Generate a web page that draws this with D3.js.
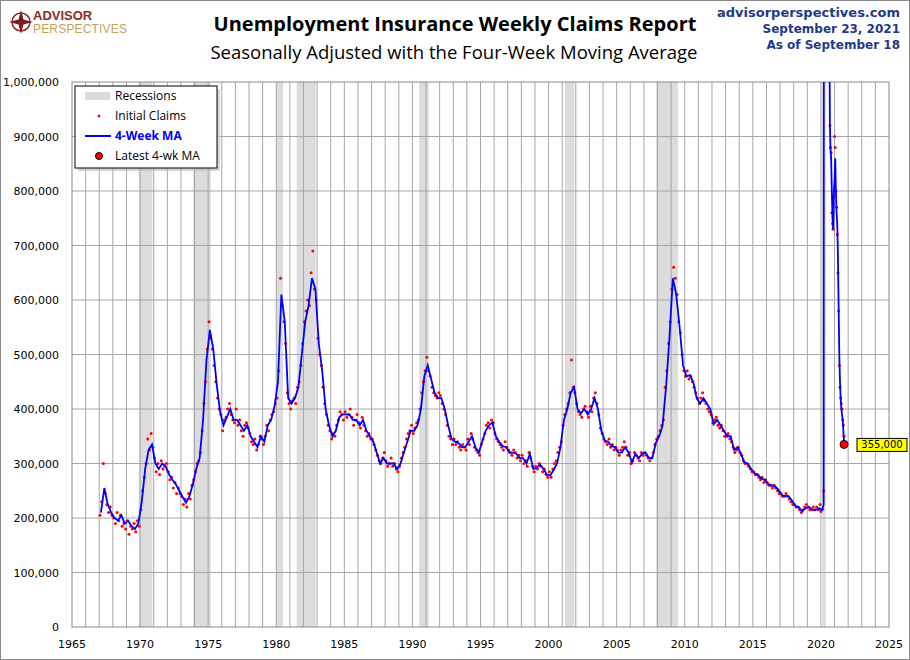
<!DOCTYPE html>
<html><head><meta charset="utf-8">
<script src="https://cdn.jsdelivr.net/npm/d3@7"></script>
<style>body{margin:0;background:#fff}svg{display:block}</style>
</head><body>
<svg id="chart" width="910" height="660"></svg>
<script>
// four-week moving average, quarterly readings (thousands), 1967..2019
var maStartYear = 1967;
var maQuarterly = [
 210,255,225,210, 200,195,205,190, 195,185,180,190, 230,290,325,335, 300,290,300,295,
 280,270,262,250, 238,228,240,262, 290,310,380,490, 545,510,445,395, 370,385,400,380,
 380,370,360,370, 350,340,330,350, 340,370,380,405, 450,610,560,420, 410,420,440,500,
 560,590,640,620, 520,470,400,370, 350,360,385,390, 390,390,380,380, 370,380,360,350,
 340,320,300,310, 300,300,300,290, 300,320,340,360, 360,370,400,460, 480,455,430,420,
 420,400,370,345, 340,338,330,330, 340,350,330,320, 340,360,370,375, 350,340,332,330,
 320,320,318,310, 310,300,318,290, 292,298,290,280, 278,288,300,330, 380,400,430,440,
 400,392,400,390, 400,420,400,360, 342,340,332,330, 320,320,330,320, 302,318,310,318,
 320,310,310,338, 350,370,440,530, 640,610,550,480, 460,462,450,420, 410,420,410,400,
 372,380,370,360, 350,350,325,330, 318,302,300,290, 282,280,272,270, 262,260,258,252,
 242,240,240,232, 222,220,212,218, 220,215,215,218
];
// initial claims, eight readings per year (thousands), 1967..2019
var claimsEighths = [
 205,230,300,245,225,210,220,205, 200,190,210,195,205,185,190,180, 195,170,185,180,190,175,195,185,
 215,250,275,300,345,325,355,330, 310,285,300,280,305,290,295,300, 285,270,275,255,265,245,255,245,
 240,225,235,220,245,235,260,270, 285,300,305,320,360,410,450,510, 560,530,510,480,450,420,400,390,
 360,380,385,400,410,390,380,375, 400,370,380,360,350,370,375,365, 355,340,335,345,325,335,350,345,
 335,350,370,360,380,390,395,410, 420,470,640,590,560,520,430,410, 400,415,420,410,440,450,480,520,
 560,580,600,590,650,690,620,600, 530,500,480,440,410,390,370,360, 345,355,350,370,380,395,390,380,
 395,385,390,400,385,370,380,390, 375,365,385,370,360,350,355,345, 345,335,325,315,305,300,310,320,
 305,295,300,310,295,300,290,285, 295,310,320,330,345,355,360,370, 355,365,375,380,400,430,450,470,
 495,470,460,440,430,425,420,430, 425,410,400,390,370,350,345,335, 345,335,340,330,325,335,330,325,
 345,335,355,345,330,325,320,315, 335,345,355,370,375,365,380,375, 355,345,340,335,330,325,340,330,
 325,320,315,325,320,310,315,305, 315,300,305,295,320,310,295,285, 295,290,300,295,285,290,280,275,
 285,275,290,300,305,320,330,340, 370,390,400,410,430,490,440,430, 410,395,390,385,400,405,395,385,
 405,395,420,430,410,390,365,355, 345,340,335,345,330,335,325,330, 325,315,325,330,340,330,315,320,
 300,305,320,315,310,305,320,315, 320,315,310,305,310,320,335,345, 350,360,370,380,440,470,520,560,
 620,660,640,610,560,540,500,470, 460,470,455,460,450,440,430,420, 410,420,430,415,410,400,395,390,
 375,380,385,370,365,370,360,350, 350,355,345,340,330,320,325,330, 320,315,305,300,300,295,290,285,
 285,280,280,275,270,275,265,270, 265,260,260,255,260,255,250,245, 245,240,240,245,240,235,230,225,
 225,220,220,215,210,215,220,225, 220,215,215,220,215,220,215,225
];
// pandemic period, finer readings
var pandemicDates = [2020.0,2020.1,2020.2,2020.21,2020.23,2020.27,2020.32,2020.38,2020.45,2020.52,2020.6,2020.66,2020.7,2020.75,2020.8,2020.85,2020.9,2020.95,2021.0,2021.05,2021.1,2021.15,2021.2,2021.25,2021.3,2021.35,2021.4,2021.45,2021.5,2021.55,2021.6,2021.65,2021.7];
var pandemicMA = [215,215,225,998,2500,4200,3500,2500,1700,1450,1200,920,880,860,800,750,730,800,820,860,800,760,740,680,590,500,450,420,400,390,380,360,335];
var pandemicClaims = [212,216,250,null,null,null,null,null,null,null,null,920,880,870,760,740,730,790,900,880,800,770,720,650,580,480,440,420,410,400,380,370,350];
var recessions = [[1969.9,1970.9],[1973.9,1975.2],[1980.0,1980.5],[1981.5,1982.9],[1990.5,1991.2],[2001.2,2001.9],[2007.9,2009.5],[2020.1,2020.35]];
var yearTicks = d3.range(1965, 2026, 5);
var claimTicks = d3.range(0, 1000001, 100000);
var latestLabel = "355,000";

var ma = maQuarterly.map(function(v,i){return {x: maStartYear + i/4 + 0.125, y: v*1000};})
  .concat(pandemicDates.map(function(d,i){return {x:d, y:pandemicMA[i]*1000};}));
var claims = claimsEighths.map(function(v,i){return {x: maStartYear + i/8 + 0.06, y: v*1000};})
  .concat(pandemicDates.map(function(d,i){return {x:d, y:pandemicClaims[i]==null?null:pandemicClaims[i]*1000};}))
  .filter(function(d){return d.y!=null;});

var svg = d3.select("#chart");
var L = 72, R = 889, T = 82, B = 627;
var x = d3.scaleLinear().domain([1965,2025]).range([L,R]);
var y = d3.scaleLinear().domain([0,1000000]).range([B,T]);

svg.append("rect").attr("x",0.5).attr("y",0.5).attr("width",909).attr("height",659).attr("fill","#fff").attr("stroke","#8a8a8a");

svg.append("defs").append("clipPath").attr("id","clip").append("rect").attr("x",L).attr("y",T).attr("width",R-L).attr("height",B-T);

var plot = svg.append("g");
plot.selectAll(".rec").data(recessions).enter().append("rect")
  .attr("x",function(d){return x(d[0]);}).attr("width",function(d){return x(d[1])-x(d[0]);})
  .attr("y",T).attr("height",B-T).attr("fill","#dcdcdc");
plot.selectAll(".vg").data(d3.range(1966,2025)).enter().append("line")
  .attr("x1",function(d){return x(d);}).attr("x2",function(d){return x(d);})
  .attr("y1",T).attr("y2",B).attr("stroke","#a6a6a6").attr("stroke-width",1);
plot.selectAll(".hg").data(claimTicks.slice(1,-1)).enter().append("line")
  .attr("x1",L).attr("x2",R).attr("y1",function(d){return y(d);}).attr("y2",function(d){return y(d);})
  .attr("stroke","#a6a6a6").attr("stroke-width",1);
plot.append("rect").attr("x",L).attr("y",T).attr("width",R-L).attr("height",B-T).attr("fill","none").attr("stroke","#8a8a8a");

var data = svg.append("g").attr("clip-path","url(#clip)");
data.selectAll(".c").data(claims).enter().append("circle")
  .attr("cx",function(d){return x(d.x);}).attr("cy",function(d){return y(d.y);}).attr("r",1.5).attr("fill","#ff0000");
data.append("path").datum(ma).attr("fill","none").attr("stroke","#0000ff").attr("stroke-width",1.8)
  .attr("d", d3.line().x(function(d){return x(d.x);}).y(function(d){return y(d.y);}));
var last = ma[ma.length-1];
data.append("circle").attr("cx",x(last.x)).attr("cy",y(last.y)).attr("r",4).attr("fill","#ff0000").attr("stroke","#000");
svg.append("rect").attr("x",857).attr("y",y(last.y)-6).attr("width",50).attr("height",13).attr("fill","#ffff00").attr("stroke","#000");
svg.append("text").attr("x",882).attr("y",y(last.y)+4).attr("text-anchor","middle").attr("font-family","DejaVu Sans").attr("font-size",10).text(latestLabel);

var ax = svg.append("g").attr("font-family","DejaVu Sans").attr("font-size",11).attr("fill","#000");
ax.selectAll(".yt").data(claimTicks).enter().append("text").attr("x",L-13).attr("y",function(d){return y(d)+4;})
  .attr("text-anchor","end").text(d3.format(","));
ax.selectAll(".xt").data(yearTicks).enter().append("text").attr("x",function(d){return x(d);}).attr("y",B+21)
  .attr("text-anchor","middle").text(function(d){return d;});

// legend
var lg = svg.append("g").attr("transform","translate(75,86)");
lg.append("rect").attr("x",3).attr("y",3).attr("width",142).attr("height",82).attr("fill","#bbb").attr("opacity",0.6);
lg.append("rect").attr("width",142).attr("height",82).attr("fill","#fff").attr("stroke","#000");
lg.append("rect").attr("x",10).attr("y",6).attr("width",25).attr("height",8).attr("fill","#dcdcdc");
lg.append("circle").attr("cx",24).attr("cy",30).attr("r",1.5).attr("fill","#ff0000");
lg.append("line").attr("x1",10).attr("x2",36).attr("y1",50).attr("y2",50).attr("stroke","#0000ff").attr("stroke-width",2);
lg.append("circle").attr("cx",24).attr("cy",70).attr("r",3.5).attr("fill","#ff0000").attr("stroke","#000");
var lt = lg.append("g").attr("font-family","Open Sans").attr("font-size",12);
lt.append("text").attr("x",40).attr("y",14).text("Recessions");
lt.append("text").attr("x",40).attr("y",34).text("Initial Claims");
lt.append("text").attr("x",40).attr("y",54).attr("fill","#0000ff").attr("font-weight","bold").text("4-Week MA");
lt.append("text").attr("x",40).attr("y",74).text("Latest 4-wk MA");

// titles
svg.append("text").attr("x",455).attr("y",31).attr("text-anchor","middle").attr("font-family","Open Sans").attr("font-weight","bold").attr("font-size",20).text("Unemployment Insurance Weekly Claims Report");
svg.append("text").attr("x",454).attr("y",59).attr("text-anchor","middle").attr("font-family","Open Sans").attr("font-size",18.5).text("Seasonally Adjusted with the Four-Week Moving Average");
var rt = svg.append("g").attr("font-family","DejaVu Sans").attr("font-weight","bold").attr("font-size",12).attr("fill","#1f3a8a").attr("text-anchor","end");
rt.append("text").attr("x",900).attr("y",17).attr("font-size",13).text("advisorperspectives.com");
rt.append("text").attr("x",900).attr("y",33).text("September 23, 2021");
rt.append("text").attr("x",900).attr("y",49).text("As of September 18");

// logo
var lo = svg.append("g").attr("transform","translate(21,22)");
lo.append("circle").attr("r",9).attr("fill","none").attr("stroke","#8b2a2a").attr("stroke-width",1.5);
lo.append("path").attr("d","M0,-12 L2.5,-2.5 L12,0 L2.5,2.5 L0,12 L-2.5,2.5 L-12,0 L-2.5,-2.5Z").attr("fill","#7a1f1f");
svg.append("text").attr("x",33).attr("y",20).attr("font-family","Liberation Sans").attr("font-weight","bold").attr("font-size",13).attr("fill","#8b2a2a").text("ADVISOR");
svg.append("text").attr("x",33).attr("y",33).attr("font-family","Liberation Sans").attr("font-size",12).attr("textLength",94).attr("fill","#c2a25a").text("PERSPECTIVES");
</script>
</body></html>
